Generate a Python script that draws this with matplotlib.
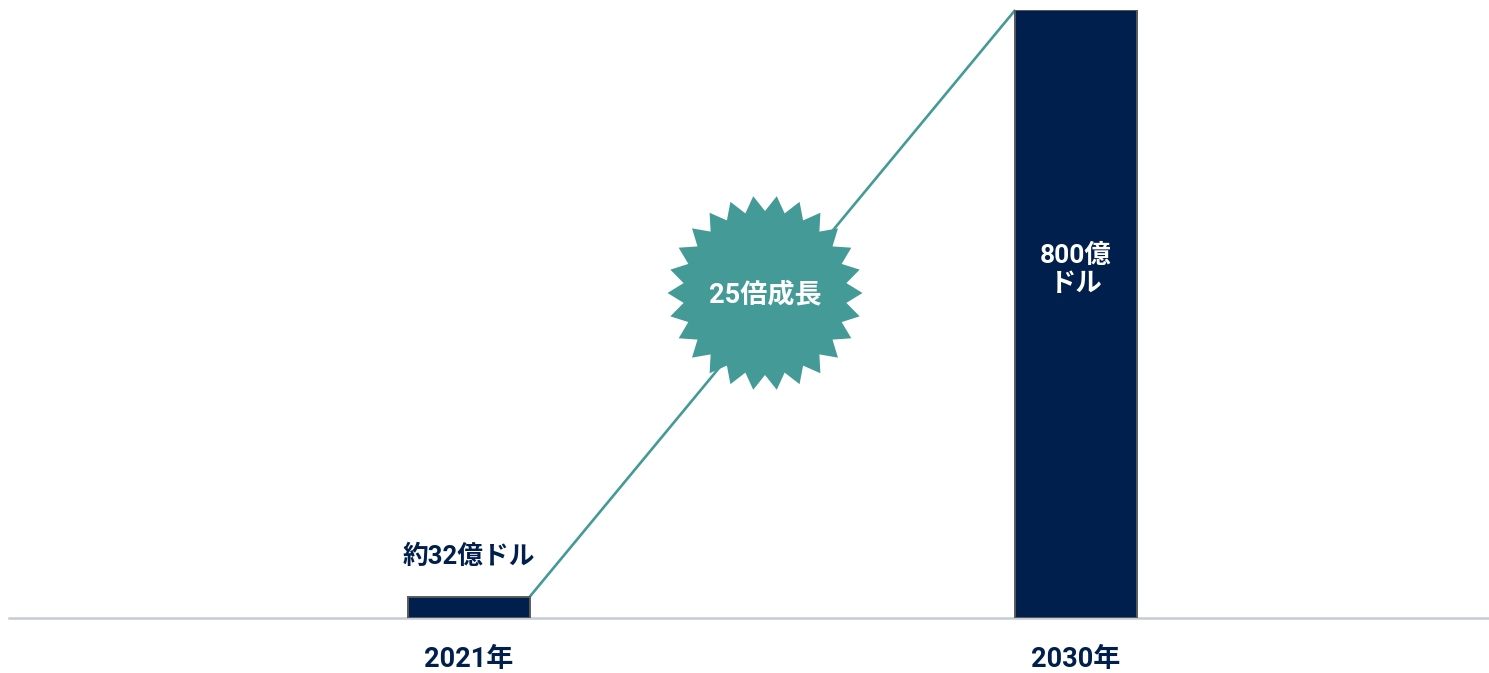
import matplotlib
matplotlib.use("Agg")
import matplotlib.pyplot as plt
import numpy as np
from matplotlib.patches import Polygon

plt.rcParams["font.family"] = ["Roboto", "Noto Sans CJK JP", "DejaVu Sans"]

years = ["2021年", "2030年"]
market = [28, 800]
value_labels = ["約32億ドル", "800億\nドル"]
growth_label = "25倍成長"

navy = "#001F4D"
teal = "#449A96"
edge = "#5A5A5A"

W, H = 1489, 673
fig = plt.figure(figsize=(W / 100, H / 100), dpi=100)
# baseline at y=618 px, tallest bar top at y=10 px
ax = fig.add_axes([9 / W, (H - 618) / H, (1488 - 9) / W, 608 / H])
ax.set_xlim(-0.758, 1.679)
ax.set_ylim(0, 800)

bar_w = 0.2
x = np.arange(len(years))
ax.bar(x, market, width=bar_w, color=navy, edgecolor=edge, linewidth=1.4, zorder=3)

# connecting growth line from top-right of first bar to top-left of second
ax.plot([x[0] + bar_w / 2, x[1] - bar_w / 2], [market[0], market[1]],
        color=teal, linewidth=1.9, zorder=2, clip_on=False, solid_capstyle="butt")

for s in ["top", "right", "left"]:
    ax.spines[s].set_visible(False)
ax.spines["bottom"].set_color("#C5CCD6")
ax.spines["bottom"].set_linewidth(1.8)
ax.set_yticks([])
ax.set_xticks(x)
ax.set_xticklabels(years, fontsize=19.5, fontweight="bold", color=navy)
ax.tick_params(axis="x", length=0, pad=20)

ax.text(x[0], market[0] + 52, value_labels[0], ha="center", va="center",
        fontsize=18.5, fontweight="bold", color=navy)
ax.text(x[1], 458, value_labels[1], ha="center", va="center",
        fontsize=19, fontweight="bold", color="white", linespacing=1.2, zorder=4)

# starburst badge (pixel units in its own axes)
cx, cy, R = 765, 293, 100
sax = fig.add_axes([(cx - R) / W, (H - cy - R) / H, 2 * R / W, 2 * R / H])
sax.set_xlim(-R, R)
sax.set_ylim(-R, R)
sax.axis("off")
n_pts = 26
ang = np.arange(2 * n_pts) * np.pi / n_pts
rad = np.where(np.arange(2 * n_pts) % 2 == 0, 97.5, 82)
star = Polygon(np.column_stack([rad * np.cos(ang), rad * np.sin(ang)]),
               closed=True, facecolor=teal, edgecolor="none")
sax.add_patch(star)
sax.text(0, -2, growth_label, ha="center", va="center", fontsize=19.5,
         fontweight="bold", color="white")

fig.savefig("out.png", dpi=100)
